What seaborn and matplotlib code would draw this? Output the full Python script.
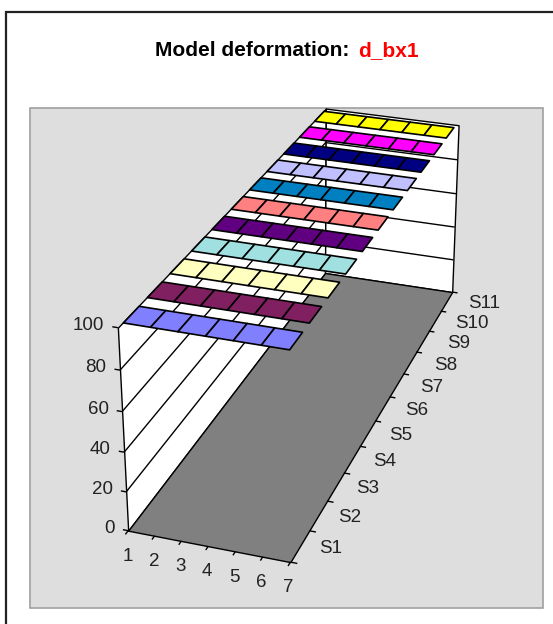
import numpy as np
import matplotlib
matplotlib.use("Agg")
import matplotlib.pyplot as plt
import seaborn as sns
from matplotlib.patches import Rectangle
from mpl_toolkits.mplot3d.art3d import Line3DCollection, Poly3DCollection

# --- data ---
SERIES = ["S1", "S2", "S3", "S4", "S5", "S6", "S7", "S8", "S9", "S10", "S11"]
X_TICKS = [1, 2, 3, 4, 5, 6, 7]
Z_TICKS = [0, 20, 40, 60, 80, 100]
S1_VALUES = [100, 100, 100, 100, 100, 100]
S2_VALUES = [100, 100, 100, 100, 100, 100]
S3_VALUES = [100, 100, 100, 100, 100, 100]
S4_VALUES = [100, 100, 100, 100, 100, 100]
S5_VALUES = [100, 100, 100, 100, 100, 100]
S6_VALUES = [100, 100, 100, 100, 100, 100]
S7_VALUES = [100, 100, 100, 100, 100, 100]
S8_VALUES = [100, 100, 100, 100, 100, 100]
S9_VALUES = [100, 100, 100, 100, 100, 100]
S10_VALUES = [100, 100, 100, 100, 100, 100]
S11_VALUES = [100, 100, 100, 100, 100, 100]
ALL_VALUES = [S1_VALUES, S2_VALUES, S3_VALUES, S4_VALUES, S5_VALUES, S6_VALUES,
              S7_VALUES, S8_VALUES, S9_VALUES, S10_VALUES, S11_VALUES]
COLORS = ["#8080FF", "#802060", "#FFFFC0", "#A0E0E0", "#600080", "#FF8080",
          "#0080C0", "#C0C0FF", "#000080", "#FF00FF", "#FFFF00"]

W, H = 553, 624
BAR_FRONT, BAR_BACK = 0.2, 0.85   # part of a series cell covered by the bar
BAR_STRETCH = 0.975               # bars stop just short of the last x tick

# camera calibration: (x, series depth, z) -> picture pixel
CALIB = [
    ((1, 0, 0), (129, 529.3)), ((7, 0, 0), (290, 561.7)), ((7, 11, 0), (453.3, 292.3)),
    ((1, 11, 0), (324, 273)), ((1, 0, 100), (118.3, 326.7)), ((1, 11, 100), (326.7, 108.3)),
    ((7, 11, 100), (458.3, 125)), ((1, 0, 40), (123.3, 452.3)), ((1, 0, 80), (120, 371.7)),
    ((7, 1, 0), (310, 530)), ((7, 4, 0), (360, 445.7)), ((7, 7, 0), (404, 374)),
    ((2, 0, 0), (155, 536)), ((4, 0, 0), (207.7, 548.3)), ((6, 0, 0), (261.7, 556.7)),
    ((7, 11, 60), (455, 194)), ((7, 11, 20), (453, 260)),
]


def fit_camera(calib):
    rows = []
    for (x, s, z), (u, v) in calib:
        v = H - v
        p = [x, s, z, 1]
        rows.append(p + [0, 0, 0, 0] + [-u * c for c in p])
        rows.append([0, 0, 0, 0] + p + [-v * c for c in p])
    cam = np.linalg.svd(np.array(rows, float))[2][-1].reshape(3, 4)
    return cam / cam[2, 3]  # svd sign is arbitrary, keep w positive


sns.set_theme(style="white")
plt.rcParams["font.family"] = ["Liberation Sans", "DejaVu Sans"]
palette = sns.color_palette(COLORS)

fig = plt.figure(figsize=(W / 100, H / 100), dpi=100, facecolor="white")

# frame + chart area
fig.add_artist(Rectangle((6 / W, -0.01), 1.1, 1 - 11.5 / H + 0.01, transform=fig.transFigure,
                         fc="white", ec="#222222", lw=1.6, zorder=-2))
fig.add_artist(Rectangle((30 / W, 1 - 608 / H), 513 / W, 500 / H, transform=fig.transFigure,
                         fc="#DEDEDE", ec="#A0A0A0", lw=1.2, zorder=-1))

camera = fit_camera(CALIB)


def make_axes(zorder):
    # 3d axes whose projection is the fitted camera
    new_ax = fig.add_axes([-0.1, -0.1, 1.2, 1.2], projection="3d", label=f"layer{zorder}")
    new_ax.computed_zorder = False
    new_ax.set_axis_off()
    new_ax.patch.set_visible(False)
    new_ax.set_zorder(zorder)
    new_ax.apply_aspect()
    Q = new_ax.transData.inverted().get_matrix() @ camera
    M = np.array([Q[0], Q[1], [0, 1, 0, 0], Q[2]])
    new_ax.get_proj = lambda: M
    return new_ax


ax = make_axes(1)
ax_bars = make_axes(2)  # own layer so the bars always sit on top of the walls

x0, x1 = X_TICKS[0], X_TICKS[-1]
s1 = len(SERIES)
z0, z1 = Z_TICKS[0], Z_TICKS[-1]


def quad(target, corners, fc, zorder, lw=1.0):
    poly = Poly3DCollection([corners], facecolors=fc, edgecolors="black", linewidths=lw)
    target.add_collection3d(poly)
    poly.set_zorder(zorder)


def lines(segments, zorder=4, lw=1.0):
    coll = Line3DCollection(segments, colors="black", linewidths=lw)
    ax.add_collection3d(coll)
    coll.set_zorder(zorder)


def label(x, s, z, text, ha="center"):
    # plain figure text at the projected position of (x, s, z)
    u, v, w = camera @ np.array([x, s, z, 1.0])
    fig.text(u / w / W, v / w / H, text, ha=ha, va="center", fontsize=13.5, color="#222222")


# walls and floor
quad(ax, [(x0, 0, z0), (x0, s1, z0), (x0, s1, z1), (x0, 0, z1)], "white", 1)
quad(ax, [(x0, s1, z0), (x1, s1, z0), (x1, s1, z1), (x0, s1, z1)], "white", 1)
lines([[(x0, 0, z), (x0, s1, z)] for z in Z_TICKS[1:-1]] +
      [[(x0, s1, z), (x1, s1, z)] for z in Z_TICKS[1:-1]], zorder=2)
quad(ax, [(x0, 0, z0), (x1, 0, z0), (x1, s1, z0), (x0, s1, z0)], "#808080", 3)

# axis ticks and labels
lines([[(x0, 0, z), (x0 - 0.2, 0, z)] for z in Z_TICKS] +
      [[(x, 0, z0), (x, -0.12, z0)] for x in X_TICKS] +
      [[(x1, s, z0), (x1 + 0.25, s, z0)] for s in range(s1 + 1)])
for z in Z_TICKS:
    label(x0 - 0.5, 0, z, str(z), ha="right")
for x in X_TICKS:
    label(x - 0.07, 0, z0 - 13.5, str(x))
for i, name in enumerate(SERIES):
    label(x1 + 1.1 + 0.06 * i, i + 0.5, z0 + 2, name)

# bars: only their tops show, all at the axis maximum
for i, (vals, col) in enumerate(zip(ALL_VALUES, palette)):
    for j, v in enumerate(vals):
        a = x0 + (X_TICKS[j] - x0) * BAR_STRETCH
        b = x0 + (X_TICKS[j + 1] - x0) * BAR_STRETCH
        quad(ax_bars, [(a, i + BAR_FRONT, v), (b, i + BAR_FRONT, v),
                       (b, i + BAR_BACK, v), (a, i + BAR_BACK, v)], col, 20 - i, lw=1.2)

fig.text(349 / W, 1 - 51 / H, "Model deformation:", ha="right", va="center",
         fontsize=15, fontweight="bold", color="black")
fig.text(358 / W, 1 - 51 / H, "d_bx1", ha="left", va="center",
         fontsize=15, fontweight="bold", color="#FF0000")

fig.savefig("out.png", dpi=100)
